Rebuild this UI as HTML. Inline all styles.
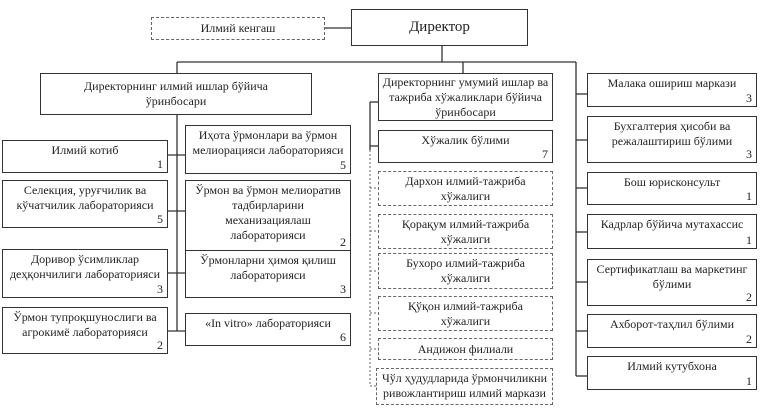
<!DOCTYPE html>
<html><head><meta charset="utf-8"><style>
body{margin:0;width:760px;height:413px;background:#fff;position:relative;overflow:hidden;font-family:"Liberation Serif",serif;font-size:12px;color:#222}
.b{position:absolute;border:1.3px solid #333;box-sizing:border-box;background:#fff;text-align:center;line-height:15px;padding-top:2px}
.d{border:1.2px dashed #666}
.n{position:absolute;right:4px;bottom:1px;line-height:14px}
svg{position:absolute;left:0;top:0}
</style></head><body>
<svg width="760" height="413">
<g stroke="#333" stroke-width="1.3" fill="none">
<line x1="325" y1="28" x2="351" y2="28"/>
<line x1="442" y1="46" x2="442" y2="62"/>
<line x1="177" y1="62" x2="576" y2="62"/>
<line x1="177" y1="62" x2="177" y2="73"/>
<line x1="463" y1="62" x2="463" y2="73"/>
<line x1="177" y1="115" x2="177" y2="331"/>
<line x1="168" y1="155" x2="185" y2="155"/>
<line x1="168" y1="211" x2="185" y2="211"/>
<line x1="168" y1="273" x2="185" y2="273"/>
<line x1="168" y1="331" x2="185" y2="331"/>
<line x1="576" y1="62" x2="576" y2="376"/>
<line x1="576" y1="94" x2="587" y2="94"/>
<line x1="576" y1="140" x2="587" y2="140"/>
<line x1="576" y1="188" x2="587" y2="188"/>
<line x1="576" y1="232" x2="587" y2="232"/>
<line x1="576" y1="282" x2="587" y2="282"/>
<line x1="576" y1="331" x2="587" y2="331"/>
<line x1="576" y1="376" x2="587" y2="376"/>
<line x1="370" y1="102" x2="370" y2="150"/>
<line x1="370" y1="102" x2="378" y2="102"/>
<line x1="370" y1="146" x2="378" y2="146"/>
</g>
<g stroke="#666" stroke-width="1" fill="none" stroke-dasharray="2,2">
<line x1="370" y1="150" x2="370" y2="386"/>
<line x1="370" y1="188" x2="378" y2="188"/>
<line x1="370" y1="231" x2="378" y2="231"/>
<line x1="370" y1="271" x2="378" y2="271"/>
<line x1="370" y1="313" x2="378" y2="313"/>
<line x1="370" y1="349" x2="378" y2="349"/>
<line x1="370" y1="386" x2="378" y2="386"/>
</g>
</svg>
<div class="b d" style="left:151px;top:17px;width:174px;height:23px;padding-top:3px">Илмий кенгаш</div>
<div class="b" style="left:351px;top:9px;width:177px;height:37px;font-size:15px;padding-top:10px">Директор</div>
<div class="b" style="left:40px;top:73px;width:272px;height:42px;padding-top:5px">Директорнинг илмий ишлар бўйича<br>ўринбосари</div>

<div class="b" style="left:2px;top:140px;width:166px;height:33px">Илмий котиб<span class="n">1</span></div>
<div class="b" style="left:2px;top:180px;width:166px;height:48px">Селекция, уруғчилик ва<br>кўчатчилик лабораторияси<span class="n">5</span></div>
<div class="b" style="left:2px;top:249px;width:166px;height:49px">Доривор ўсимликлар<br>деҳқончилиги лабораторияси<span class="n">3</span></div>
<div class="b" style="left:2px;top:307px;width:166px;height:47px">Ўрмон тупроқшунослиги ва<br>агрокимё лабораторияси<span class="n">2</span></div>

<div class="b" style="left:185px;top:125px;width:166px;height:49px">Иҳота ўрмонлари ва ўрмон<br>мелиорацияси лабораторияси<span class="n">5</span></div>
<div class="b" style="left:185px;top:180px;width:166px;height:71px">Ўрмон ва ўрмон мелиоратив<br>тадбирларини<br>механизациялаш<br>лабораторияси<span class="n">2</span></div>
<div class="b" style="left:185px;top:250px;width:166px;height:48px">Ўрмонларни ҳимоя қилиш<br>лабораторияси<span class="n">3</span></div>
<div class="b" style="left:185px;top:313px;width:166px;height:33px">«In vitro» лабораторияси<span class="n">6</span></div>

<div class="b" style="left:378px;top:73px;width:175px;height:48px;padding-top:1px">Директорнинг умумий ишлар ва<br>тажриба хўжаликлари бўйича<br>ўринбосари</div>
<div class="b" style="left:378px;top:130px;width:175px;height:33px">Хўжалик бўлими<span class="n">7</span></div>
<div class="b d" style="left:378px;top:171px;width:175px;height:35px">Дархон илмий-тажриба<br>хўжалиги</div>
<div class="b d" style="left:378px;top:214px;width:175px;height:35px">Қорақум илмий-тажриба<br>хўжалиги</div>
<div class="b d" style="left:378px;top:253px;width:175px;height:36px">Бухоро илмий-тажриба<br>хўжалиги</div>
<div class="b d" style="left:378px;top:296px;width:175px;height:35px">Қўқон илмий-тажриба<br>хўжалиги</div>
<div class="b d" style="left:378px;top:338px;width:175px;height:22px;padding-top:3px">Андижон филиали</div>
<div class="b d" style="left:376px;top:368px;width:177px;height:37px">Чўл ҳудудларида ўрмончиликни<br>ривожлантириш илмий маркази</div>

<div class="b" style="left:587px;top:73px;width:170px;height:34px">Малака ошириш маркази<span class="n">3</span></div>
<div class="b" style="left:587px;top:116px;width:170px;height:47px">Бухгалтерия ҳисоби ва<br>режалаштириш бўлими<span class="n">3</span></div>
<div class="b" style="left:587px;top:172px;width:170px;height:33px">Бош юрисконсульт<span class="n">1</span></div>
<div class="b" style="left:587px;top:214px;width:170px;height:35px">Кадрлар бўйича мутахассис<span class="n">1</span></div>
<div class="b" style="left:587px;top:259px;width:170px;height:47px">Сертификатлаш ва маркетинг<br>бўлими<span class="n">2</span></div>
<div class="b" style="left:587px;top:314px;width:170px;height:34px">Ахборот-таҳлил бўлими<span class="n">2</span></div>
<div class="b" style="left:587px;top:356px;width:170px;height:34px">Илмий кутубхона<span class="n">1</span></div>
</body></html>
